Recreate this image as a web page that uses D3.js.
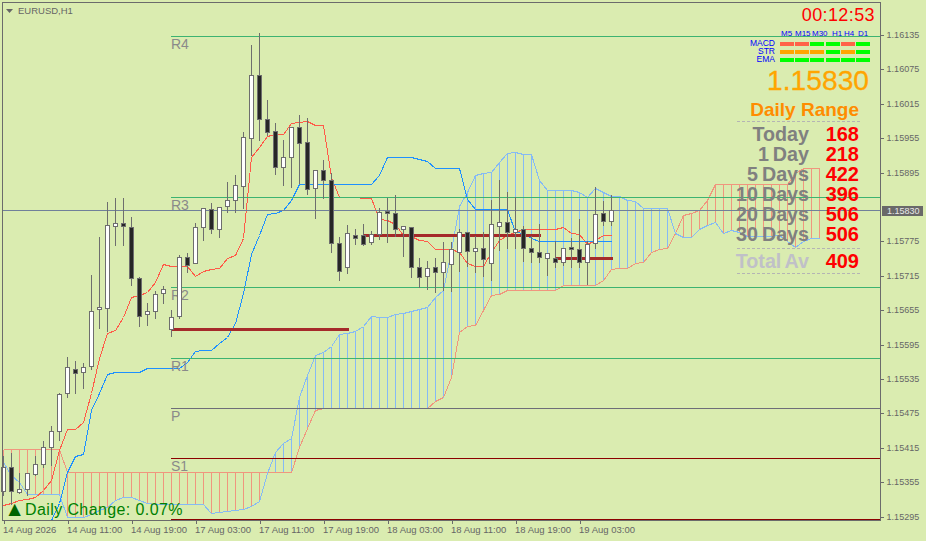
<!DOCTYPE html>
<html><head><meta charset="utf-8">
<style>
html,body{margin:0;padding:0;background:#daecb0;}
svg{display:block;}
text{font-family:"Liberation Sans",Arial,sans-serif;}
</style>
<script src="https://cdnjs.cloudflare.com/ajax/libs/d3/7.8.5/d3.min.js"></script>
</head><body>
<svg id="c" width="926" height="541"></svg>
<script>
// ---- data (prices) ----
const opens=[1.15340,1.15382,1.15339,1.15344,1.15370,1.15388,1.15417,1.15445,1.15511,1.15553,1.15548,1.15558,1.15658,1.15660,1.15803,1.15808,1.15801,1.15712,1.15649,1.15654,1.15686,1.15623,1.15646,1.15749,1.15738,1.15801,1.15832,1.15797,1.15838,1.15848,1.15872,1.15956,1.16066,1.15989,1.15968,1.15906,1.15923,1.15975,1.15949,1.15869,1.15900,1.15883,1.15773,1.15731,1.15787,1.15787,1.15775,1.15789,1.15829,1.15825,1.15797,1.15801,1.15731,1.15716,1.15731,1.15722,1.15736,1.15757,1.15792,1.15759,1.15764,1.15738,1.15803,1.15810,1.15792,1.15797,1.15764,1.15757,1.15747,1.15747,1.15740,1.15766,1.15763,1.15740,1.15773,1.15825,1.15811];
const highs=[1.15403,1.15408,1.15374,1.15374,1.15403,1.15429,1.15456,1.15513,1.15576,1.15569,1.15565,1.15719,1.15785,1.15846,1.15853,1.15853,1.15820,1.15716,1.15670,1.15691,1.15700,1.15658,1.15754,1.15757,1.15810,1.15836,1.15845,1.15838,1.15881,1.15893,1.15968,1.16120,1.16141,1.16024,1.15984,1.15955,1.15977,1.15998,1.15993,1.15902,1.15920,1.15897,1.15785,1.15806,1.15799,1.15808,1.15796,1.15836,1.15853,1.15859,1.15804,1.15801,1.15749,1.15743,1.15749,1.15777,1.15777,1.15799,1.15792,1.15787,1.15794,1.15850,1.15885,1.15864,1.15855,1.15804,1.15787,1.15808,1.15756,1.15778,1.15766,1.15784,1.15817,1.15778,1.15872,1.15848,1.15859];
const lows=[1.15333,1.15318,1.15337,1.15333,1.15368,1.15382,1.15386,1.15429,1.15504,1.15511,1.15520,1.15553,1.15625,1.15620,1.15770,1.15770,1.15700,1.15628,1.15630,1.15642,1.15668,1.15611,1.15642,1.15722,1.15738,1.15778,1.15790,1.15784,1.15827,1.15827,1.15834,1.15927,1.15953,1.15961,1.15893,1.15874,1.15871,1.15878,1.15859,1.15817,1.15852,1.15757,1.15709,1.15721,1.15771,1.15770,1.15771,1.15780,1.15775,1.15785,1.15750,1.15714,1.15696,1.15693,1.15688,1.15691,1.15689,1.15724,1.15733,1.15722,1.15716,1.15709,1.15761,1.15764,1.15764,1.15742,1.15740,1.15740,1.15717,1.15731,1.15735,1.15731,1.15731,1.15702,1.15764,1.15804,1.15804];
const closes=[1.15382,1.15340,1.15344,1.15372,1.15388,1.15417,1.15445,1.15510,1.15557,1.15546,1.15557,1.15654,1.15661,1.15804,1.15808,1.15803,1.15712,1.15646,1.15654,1.15684,1.15693,1.15644,1.15749,1.15735,1.15801,1.15834,1.15797,1.15836,1.15848,1.15874,1.15958,1.16066,1.15989,1.15967,1.15906,1.15923,1.15975,1.15948,1.15867,1.15900,1.15883,1.15773,1.15724,1.15790,1.15782,1.15771,1.15789,1.15827,1.15825,1.15797,1.15803,1.15731,1.15714,1.15729,1.15722,1.15740,1.15763,1.15792,1.15759,1.15764,1.15745,1.15806,1.15810,1.15792,1.15797,1.15764,1.15757,1.15749,1.15756,1.15740,1.15764,1.15763,1.15740,1.15771,1.15824,1.15811,1.15830];
const tenkan=[1.15316,1.15319,1.15325,1.15326,1.15330,1.15342,1.15360,1.15412,1.15449,1.15449,1.15461,1.15511,1.15572,1.15616,1.15621,1.15644,1.15679,1.15682,1.15688,1.15705,1.15736,1.15733,1.15733,1.15733,1.15716,1.15724,1.15728,1.15729,1.15747,1.15752,1.15782,1.15923,1.15940,1.15960,1.15963,1.15963,1.15982,1.15984,1.15986,1.15979,1.15979,1.15888,1.15853,1.15853,1.15853,1.15852,1.15852,1.15815,1.15813,1.15806,1.15787,1.15785,1.15778,1.15777,1.15763,1.15763,1.15763,1.15757,1.15738,1.15733,1.15733,1.15757,1.15778,1.15787,1.15792,1.15797,1.15797,1.15797,1.15797,1.15797,1.15801,1.15790,1.15789,1.15771,1.15778,1.15787,1.15787];
const kijun=[null,null,null,null,null,null,1.15290,1.15319,1.15374,1.15401,1.15405,1.15482,1.15511,1.15544,1.15548,1.15548,1.15548,1.15548,1.15555,1.15555,1.15555,1.15555,1.15555,1.15565,1.15585,1.15586,1.15586,1.15599,1.15609,1.15633,1.15686,1.15754,1.15787,1.15824,1.15825,1.15831,1.15848,1.15876,1.15876,1.15876,1.15876,1.15876,1.15876,1.15876,1.15876,1.15876,1.15876,1.15892,1.15923,1.15923,1.15923,1.15923,1.15920,1.15916,1.15904,1.15904,1.15904,1.15904,1.15850,1.15832,1.15832,1.15832,1.15832,1.15832,1.15792,1.15790,1.15782,1.15777,1.15777,1.15777,1.15777,1.15777,1.15777,1.15777,1.15777,1.15777,1.15777];
const spanA=[1.15414,1.15414,1.15414,1.15414,1.15414,1.15414,1.15414,1.15414,1.15374,1.15374,1.15374,1.15374,1.15374,1.15374,1.15374,1.15374,1.15374,1.15374,1.15374,1.15374,1.15374,1.15374,1.15374,1.15374,1.15374,1.15374,1.15374,1.15374,1.15374,1.15374,1.15374,1.15374,1.15374,1.15374,1.15374,1.15374,1.15374,1.15417,1.15450,1.15482,1.15485,1.15485,1.15485,1.15485,1.15485,1.15485,1.15485,1.15485,1.15485,1.15485,1.15485,1.15485,1.15485,1.15485,1.15497,1.15504,1.15539,1.15618,1.15628,1.15630,1.15656,1.15682,1.15684,1.15691,1.15691,1.15691,1.15691,1.15691,1.15691,1.15691,1.15700,1.15700,1.15700,1.15700,1.15700,1.15709,1.15728,1.15729,1.15729,1.15738,1.15740,1.15757,1.15763,1.15764,1.15790,1.15822,1.15825,1.15831,1.15848,1.15876,1.15876,1.15876,1.15876,1.15876,1.15876,1.15876,1.15876,1.15876,1.15876,1.15895,1.15904,1.15904,1.15904];
const spanB=[1.15391,1.15368,1.15356,1.15335,1.15335,1.15335,1.15335,1.15335,1.15295,1.15295,1.15295,1.15300,1.15307,1.15313,1.15325,1.15330,1.15330,1.15325,1.15319,1.15318,1.15318,1.15318,1.15318,1.15318,1.15318,1.15318,1.15302,1.15304,1.15306,1.15307,1.15309,1.15314,1.15323,1.15372,1.15408,1.15424,1.15433,1.15504,1.15543,1.15578,1.15583,1.15593,1.15614,1.15616,1.15620,1.15628,1.15646,1.15644,1.15644,1.15649,1.15651,1.15654,1.15658,1.15661,1.15679,1.15691,1.15761,1.15838,1.15862,1.15892,1.15895,1.15897,1.15914,1.15930,1.15932,1.15928,1.15928,1.15883,1.15866,1.15866,1.15866,1.15866,1.15862,1.15853,1.15869,1.15862,1.15855,1.15855,1.15848,1.15846,1.15834,1.15834,1.15834,1.15834,1.15790,1.15784,1.15784,1.15797,1.15804,1.15810,1.15790,1.15796,1.15792,1.15785,1.15785,1.15785,1.15785,1.15787,1.15777,1.15766,1.15777,1.15782,1.15782];
const pivotNames=["R4","R3","R2","R1","P","S1","S2"];
const pivotValues=[1.16134,1.15853,1.15696,1.15572,1.15485,1.15398,1.15292];
const pivotColors=["#3cb371","#3cb371","#3cb371","#3cb371","#6e6e78","#8b0000","#8b0000"];
const rangeLineStart=[21,45,69];
const rangeLineEnd=[43,67,76];
const rangeLineValue=[1.15623,1.15787,1.15747];
const priceTicks=[1.16135,1.16075,1.16015,1.15955,1.15895,1.15775,1.15715,1.15655,1.15595,1.15535,1.15475,1.15415,1.15355,1.15295];
const timeTickIndex=[0,8,16,24,32,40,48,56,64,72];
const timeTickLabels=["14 Aug 2026","14 Aug 11:00","14 Aug 19:00","17 Aug 03:00","17 Aug 11:00","17 Aug 19:00","18 Aug 03:00","18 Aug 11:00","18 Aug 19:00","19 Aug 03:00"];
const currentPrice=1.15830;
const timeframes=["M5","M15","M30","H1","H4","D1"];
const signalRows=["MACD","STR","EMA"];
const macdStates=["red","red","green","green","red","green"];
const strStates=["orange","orange","orange","green","orange","green"];
const emaStates=["green","green","green","green","green","green"];
const rangeLabels=["Today","1 Day","5 Days","10 Days","20 Days","30 Days"];
const rangeValues=[168,218,422,396,506,506];
const totalLabel="Total Av";
const totalValue=409;
const dailyChange="0.07%";
const clock="00:12:53";

// ---- scales ----
const svg=d3.select("#c");
const BG="#daecb0",AX="#6b6b6b",TXT="#666";
const x=d3.scaleLinear().domain([0,102]).range([3.5,819.5]);
const y=d3.scaleLinear().domain([1.15295,1.16135]).range([517,35.5]);
const sy=v=>Math.round(y(v))+.5;
svg.append("rect").attr("width",926).attr("height",541).attr("fill",BG);
svg.append("defs").append("clipPath").attr("id","clip").append("rect").attr("x",3).attr("y",3).attr("width",877).attr("height",517);
const plot=svg.append("g").attr("clip-path","url(#clip)").attr("shape-rendering","crispEdges");

// cloud hatch
plot.append("g").selectAll("line").data(spanA.map((a,i)=>({i,a,b:spanB[i]})).filter(d=>d.a!==d.b)).join("line")
 .attr("x1",d=>x(d.i)).attr("x2",d=>x(d.i)).attr("y1",d=>sy(d.a)).attr("y2",d=>sy(d.b))
 .attr("stroke",d=>d.a>d.b?"#f0967e":"#85baf5").attr("stroke-width",1);
// ichimoku lines
const line=d3.line().defined(d=>d!=null).x((d,i)=>x(i)).y(d=>sy(d));
[[spanA,"#f0967e"],[spanB,"#85baf5"],[tenkan,"#ff5a48"],[kijun,"#1e90ff"]].forEach(([s,c])=>{
 plot.append("path").attr("d",line(s)).attr("fill","none").attr("stroke",c).attr("stroke-width",1);
});
// pivot lines and labels
plot.append("g").selectAll("line").data(pivotValues).join("line")
 .attr("x1",x(21)-.5).attr("x2",881).attr("y1",d=>sy(d)).attr("y2",d=>sy(d))
 .attr("stroke",(d,i)=>pivotColors[i]).attr("stroke-width",1);
svg.append("g").selectAll("text").data(pivotNames.slice(0,6)).join("text")
 .attr("x",x(21)-.5).attr("y",(d,i)=>sy(pivotValues[i])+12.5).text(d=>d)
 .attr("font-size",14).attr("fill","#8a8a8a");
// current price line
plot.append("line").attr("x1",3).attr("x2",881).attr("y1",sy(currentPrice)).attr("y2",sy(currentPrice)).attr("stroke","#70809a");
// thick range lines
plot.append("g").selectAll("line").data(rangeLineValue).join("line")
 .attr("x1",(d,i)=>x(rangeLineStart[i])).attr("x2",(d,i)=>x(rangeLineEnd[i])+1)
 .attr("y1",d=>sy(d)).attr("y2",d=>sy(d)).attr("stroke","#a52a2a").attr("stroke-width",3);
// candles
const candles=opens.map((o,i)=>({i,o,h:highs[i],l:lows[i],c:closes[i]}));
const cg=svg.append("g").attr("shape-rendering","crispEdges").selectAll("g").data(candles).join("g");
cg.append("line").attr("x1",d=>x(d.i)).attr("x2",d=>x(d.i)).attr("y1",d=>sy(d.h)).attr("y2",d=>sy(d.l)).attr("stroke","#6e6e6e");
cg.append("rect").attr("x",d=>x(d.i)-2).attr("width",4)
 .attr("y",d=>sy(Math.max(d.o,d.c))).attr("height",d=>Math.max(1,sy(Math.min(d.o,d.c))-sy(Math.max(d.o,d.c))))
 .attr("fill",d=>d.c>=d.o?"#fff":"#262626").attr("stroke","#6e6e6e");

// frame
svg.append("rect").attr("x",2.5).attr("y",2.5).attr("width",878).attr("height",518).attr("fill","none").attr("stroke",AX).attr("shape-rendering","crispEdges");
// axes
const yAxis=svg.append("g").attr("transform","translate(880.5,0)").call(d3.axisRight(y).tickValues(priceTicks).tickSize(3).tickPadding(3).tickFormat(d3.format(".5f")));
yAxis.select(".domain").remove();
yAxis.selectAll(".tick").attr("transform",d=>`translate(0,${Math.floor(y(d)+.1)+.5})`);
yAxis.selectAll("line").attr("stroke",AX).attr("shape-rendering","crispEdges");
yAxis.selectAll("text").attr("fill",TXT).attr("font-size",9).attr("font-family","Liberation Sans").attr("letter-spacing",.05);
const xAxis=svg.append("g").attr("transform","translate(0,520.5)").call(d3.axisBottom(x).tickValues(timeTickIndex).tickSize(3).tickPadding(3).tickFormat((d,i)=>timeTickLabels[i]));
xAxis.select(".domain").remove();
xAxis.selectAll("line").attr("stroke",AX).attr("shape-rendering","crispEdges");
xAxis.selectAll("text").attr("fill",TXT).attr("font-size",9.5).attr("font-family","Liberation Sans").attr("text-anchor","start").attr("dx",-1).attr("dy",0).attr("y",12);
// price tag
svg.append("rect").attr("x",882).attr("y",sy(currentPrice)-4.5).attr("width",41).attr("height",10).attr("fill","#696969").attr("shape-rendering","crispEdges");
svg.append("text").attr("x",887).attr("y",sy(currentPrice)+3.5).text(currentPrice.toFixed(5)).attr("font-size",9).attr("fill","#e8e8e8");

// title
svg.append("path").attr("d","M6,9L13,9L9.5,13Z").attr("fill","#666");
svg.append("text").attr("x",18).attr("y",14).text("EURUSD,H1").attr("font-size",9.5).attr("fill","#666");

// panel
const RIGHT=859;
svg.append("text").attr("x",875).attr("y",21).attr("text-anchor","end").attr("font-size",18).attr("letter-spacing",.4).attr("fill","#ff0000").text(clock);
const headerX=[781,795,812,832,844,858];
svg.append("g").selectAll("text").data(timeframes).join("text").attr("x",(d,i)=>headerX[i]).attr("y",36).text(d=>d).attr("font-size",8).attr("fill","#0000ff");
const rowBase=[46,54,62];
svg.append("g").selectAll("text").data(signalRows).join("text").attr("x",775).attr("y",(d,i)=>rowBase[i]).attr("text-anchor","end").text(d=>d).attr("font-size",8.5).attr("fill","#0000ff");
const band=d3.scaleBand().domain(timeframes).range([780,870]).paddingInner(.07);
const stateColor={red:"#ff6347",orange:"#ffa500",green:"#00ff00"};
[macdStates,strStates,emaStates].forEach((row,r)=>{
 svg.append("g").attr("shape-rendering","crispEdges").selectAll("rect").data(row).join("rect")
  .attr("x",(d,i)=>band(timeframes[i])).attr("y",rowBase[r]-4).attr("width",band.bandwidth()).attr("height",4).attr("fill",d=>stateColor[d]);
});
svg.append("text").attr("x",869).attr("y",89.5).attr("text-anchor","end").attr("font-size",28.2).attr("fill","#ffa500").attr("stroke","#ffa500").attr("stroke-width",.3).text(currentPrice.toFixed(5));
svg.append("text").attr("x",RIGHT).attr("y",116).attr("text-anchor","end").attr("font-size",19).attr("font-weight","bold").attr("fill","#ff8c00").text("Daily Range");
[121.5,248.5,273.5].forEach(v=>{
 svg.append("line").attr("x1",737).attr("x2",860).attr("y1",v).attr("y2",v).attr("stroke","#b4b4b4").attr("stroke-dasharray","3,2").attr("shape-rendering","crispEdges");
});
const rangeBase=[141,161,181,201,221,241];
svg.append("g").selectAll("text").data(rangeLabels).join("text").attr("x",809).attr("y",(d,i)=>rangeBase[i]).attr("text-anchor","end").attr("font-size",19.7).attr("font-weight","bold").attr("word-spacing",-1.5).attr("fill","#808080").text(d=>d);
svg.append("g").selectAll("text").data(rangeValues).join("text").attr("x",RIGHT).attr("y",(d,i)=>rangeBase[i]).attr("text-anchor","end").attr("font-size",20).attr("font-weight","bold").attr("fill","#ff0000").text(d=>d);
svg.append("text").attr("x",809).attr("y",268).attr("text-anchor","end").attr("font-size",19.7).attr("font-weight","bold").attr("word-spacing",-1.5).attr("fill","#c0c0c8").text(totalLabel);
svg.append("text").attr("x",RIGHT).attr("y",268).attr("text-anchor","end").attr("font-size",20).attr("font-weight","bold").attr("fill","#ff0000").text(totalValue);

// daily change
svg.append("text").attr("x",8.5).attr("y",514).attr("font-size",16).attr("fill","#006400").attr("style","font-family:'DejaVu Sans'").text("▲");
svg.append("text").attr("x",25).attr("y",515).attr("font-size",16).attr("letter-spacing",.4).attr("fill","#008000").text("Daily Change: "+dailyChange);
</script>
</body></html>
